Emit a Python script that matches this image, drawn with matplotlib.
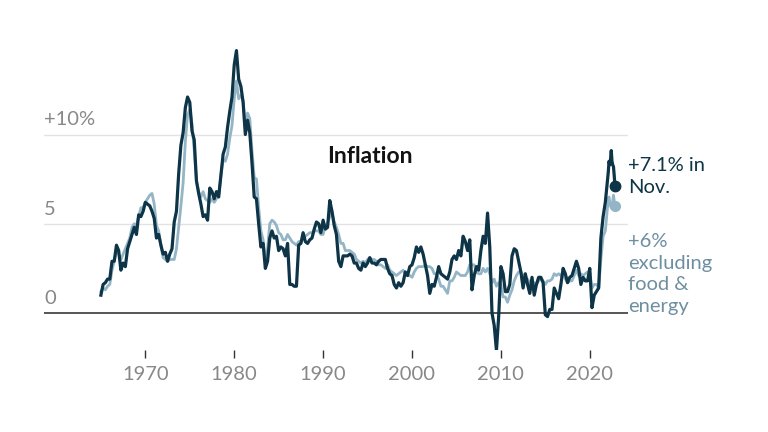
import numpy as np
import pandas as pd
import matplotlib
matplotlib.use("Agg")
import matplotlib.pyplot as plt

plt.rcParams['font.family'] = ['Lato', 'DejaVu Sans']

# Year-over-year CPI change, %, sampled Jan/Apr/Jul/Oct from 1965 to 2021
headline_q = [
    1.0, 1.6, 1.7, 1.9,    # 1965
    1.9, 2.9, 2.9, 3.8,    # 1966
    3.5, 2.4, 2.8, 2.6,    # 1967
    3.6, 4.0, 4.4, 4.8,    # 1968
    4.4, 5.5, 5.4, 5.7,    # 1969
    6.2, 6.1, 6.0, 5.7,    # 1970
    5.3, 4.2, 4.4, 3.8,    # 1971
    3.3, 3.4, 2.9, 3.3,    # 1972
    3.6, 5.1, 5.7, 7.8,    # 1973
    9.4, 10.1, 11.5, 12.1, # 1974
    11.8, 10.2, 9.7, 7.4,  # 1975
    6.7, 6.1, 5.4, 5.5,    # 1976
    5.2, 7.0, 6.8, 6.4,    # 1977
    6.8, 6.5, 7.7, 8.9,    # 1978
    9.3, 10.4, 11.3, 12.1, # 1979
    13.9, 14.7, 13.1, 12.7,# 1980
    11.8, 10.0, 10.8, 10.1,# 1981
    8.4, 6.5, 6.4, 5.0,    # 1982
    3.7, 3.9, 2.5, 2.9,    # 1983
    4.2, 4.6, 4.2, 4.3,    # 1984
    3.5, 3.7, 3.6, 3.2,    # 1985
    3.9, 1.6, 1.6, 1.5,    # 1986
    1.5, 3.8, 3.9, 4.5,    # 1987
    4.0, 3.9, 4.1, 4.2,    # 1988
    4.7, 5.1, 5.0, 4.5,    # 1989
    5.2, 4.7, 4.8, 6.3,    # 1990
    5.7, 4.9, 4.4, 2.9,    # 1991
    2.6, 3.2, 3.2, 3.2,    # 1992
    3.3, 3.2, 2.8, 2.8,    # 1993
    2.5, 2.4, 2.8, 2.6,    # 1994
    2.8, 3.1, 2.8, 2.8,    # 1995
    2.7, 2.9, 3.0, 3.0,    # 1996
    3.0, 2.5, 2.2, 2.1,    # 1997
    1.6, 1.4, 1.7, 1.5,    # 1998
    1.7, 2.3, 2.1, 2.6,    # 1999
    2.7, 3.1, 3.7, 3.4,    # 2000
    3.7, 3.3, 2.7, 2.1,    # 2001
    1.1, 1.6, 1.5, 2.0,    # 2002
    2.6, 2.2, 2.1, 2.0,    # 2003
    1.9, 2.3, 3.0, 3.2,    # 2004
    3.0, 3.5, 3.2, 4.3,    # 2005
    4.0, 3.5, 4.1, 1.3,    # 2006
    2.1, 2.6, 2.4, 3.5,    # 2007
    4.3, 3.9, 5.6, 3.7,    # 2008
    0.0, -0.7, -2.1, -0.2, # 2009
    2.6, 2.2, 1.2, 1.2,    # 2010
    1.6, 3.2, 3.6, 3.5,    # 2011
    2.9, 2.3, 1.4, 2.2,    # 2012
    1.6, 1.1, 2.0, 1.0,    # 2013
    1.6, 2.0, 2.0, 1.7,    # 2014
    -0.1, -0.2, 0.2, 0.2,  # 2015
    1.4, 1.1, 0.8, 1.6,    # 2016
    2.5, 2.2, 1.7, 2.0,    # 2017
    2.1, 2.5, 2.9, 2.5,    # 2018
    1.6, 2.0, 1.8, 1.8,    # 2019
    2.5, 0.3, 1.0, 1.2,    # 2020
    1.4, 4.2, 5.4, 6.2,    # 2021
]
core_q = [
    1.2, 1.4, 1.3, 1.5,    # 1965
    1.6, 2.4, 2.9, 3.5,    # 1966
    3.3, 3.0, 3.3, 3.6,    # 1967
    3.9, 4.2, 4.8, 5.0,    # 1968
    4.9, 5.4, 5.9, 5.9,    # 1969
    6.2, 6.4, 6.6, 6.7,    # 1970
    6.1, 4.9, 4.6, 3.8,    # 1971
    3.1, 3.0, 2.9, 3.0,    # 1972
    3.0, 3.0, 3.6, 4.8,    # 1973
    6.0, 7.3, 9.6, 11.1,   # 1974
    11.4, 10.6, 9.1, 7.4,  # 1975
    6.8, 6.5, 6.8, 6.4,    # 1976
    6.3, 6.2, 6.4, 6.2,    # 1977
    6.4, 6.6, 7.7, 8.6,    # 1978
    8.5, 8.9, 9.8, 10.5,   # 1979
    12.0, 13.0, 12.0, 12.2,# 1980
    11.9, 10.4, 11.2, 10.9,# 1981
    9.1, 7.6, 7.5, 5.9,    # 1982
    4.6, 4.1, 3.0, 3.6,    # 1983
    5.0, 5.2, 5.1, 4.9,    # 1984
    4.5, 4.4, 4.1, 4.1,    # 1985
    4.4, 4.2, 4.0, 3.9,    # 1986
    3.8, 4.0, 4.0, 4.2,    # 1987
    4.3, 4.4, 4.5, 4.5,    # 1988
    4.6, 4.6, 4.6, 4.4,    # 1989
    4.4, 4.9, 5.0, 5.4,    # 1990
    5.6, 5.1, 4.8, 4.4,    # 1991
    3.9, 3.9, 3.5, 3.5,    # 1992
    3.5, 3.4, 3.3, 3.0,    # 1993
    2.9, 2.8, 2.9, 2.8,    # 1994
    3.0, 3.1, 3.0, 3.0,    # 1995
    2.9, 2.7, 2.7, 2.6,    # 1996
    2.5, 2.7, 2.4, 2.3,    # 1997
    2.2, 2.1, 2.2, 2.3,    # 1998
    2.4, 2.2, 2.1, 2.1,    # 1999
    2.0, 2.3, 2.5, 2.6,    # 2000
    2.6, 2.6, 2.7, 2.6,    # 2001
    2.6, 2.5, 2.2, 2.2,    # 2002
    1.9, 1.5, 1.5, 1.3,    # 2003
    1.1, 1.8, 1.8, 2.0,    # 2004
    2.3, 2.2, 2.1, 2.1,    # 2005
    2.1, 2.3, 2.7, 2.7,    # 2006
    2.7, 2.3, 2.2, 2.2,    # 2007
    2.5, 2.3, 2.5, 2.2,    # 2008
    1.7, 1.9, 1.5, 1.7,    # 2009
    1.6, 0.9, 0.9, 0.6,    # 2010
    1.0, 1.3, 1.8, 2.1,    # 2011
    2.3, 2.3, 2.1, 2.0,    # 2012
    1.9, 1.7, 1.7, 1.7,    # 2013
    1.6, 1.8, 1.9, 1.8,    # 2014
    1.6, 1.8, 1.8, 1.9,    # 2015
    2.2, 2.1, 2.2, 2.1,    # 2016
    2.3, 1.9, 1.7, 1.8,    # 2017
    1.8, 2.1, 2.4, 2.1,    # 2018
    2.2, 2.1, 2.2, 2.3,    # 2019
    2.3, 1.4, 1.6, 1.6,    # 2020
    1.4, 3.0, 4.3, 4.6,    # 2021
]
# 2022, monthly Jan..Nov
headline_2022 = [7.5, 7.9, 8.5, 8.3, 8.6, 9.1, 8.5, 8.3, 8.2, 7.7, 7.1]
core_2022 = [6.0, 6.4, 6.5, 6.2, 6.0, 5.9, 5.9, 6.3, 6.6, 6.3, 6.0]

tick_years = [1970, 1980, 1990, 2000, 2010, 2020]
y_ticks = [0, 5, 10]
y_labels = ['0', '5', '+10%']

q_dates = pd.date_range('1965-01-01', '2021-10-01', freq='QS')
m_dates = pd.date_range('2022-01-01', '2022-11-01', freq='MS')
dates = q_dates.append(m_dates)
x = dates.year + (dates.month - 1) / 12
headline = np.array(headline_q + headline_2022)
core = np.array(core_q + core_2022)

navy = '#0d3447'
light = '#93b5c6'
label_light = '#6e8fa1'
gray = '#888888'

fig = plt.figure(figsize=(7.68, 4.32), dpi=100)
ax = fig.add_axes([0.0573, 0.1907, 0.7604, 0.7459])
ax.set_xlim(1958.6, 2024.3)
ax.set_ylim(-2.05, 16)

for yt in [5, 10]:
    ax.axhline(yt, color='#e2e2e2', lw=1, zorder=0)
ax.axhline(0, color='#555555', lw=1.4, zorder=1)

ax.plot(x, core, color=light, lw=2.0, zorder=2, solid_joinstyle='round')
ax.plot(x, headline, color=navy, lw=2.3, zorder=3, solid_joinstyle='round')
ax.plot(x[-1], core[-1], 'o', color=light, ms=7, zorder=2)
ax.plot(x[-1], headline[-1], 'o', color=navy, ms=7.5, zorder=4)

for v, lab in zip(y_ticks, y_labels):
    ax.text(1958.6, v + 0.35, lab, color=gray, fontsize=14.5,
            ha='left', va='bottom')

ax.text(2024.3, 8.75, '+7.1% in\nNov.', color=navy, fontsize=14.5,
        ha='left', va='top', linespacing=1.35, clip_on=False)
ax.text(2024.3, 4.5, '+6%\nexcluding\nfood &\nenergy', color=label_light,
        fontsize=14.5, ha='left', va='top', linespacing=1.35, clip_on=False)

ax.text(1995.3, 8.75, 'Inflation', color='#121212', fontsize=16.5,
        fontweight='bold', ha='center', va='center')

ax.set_xticks(tick_years)
ax.set_xticklabels([str(t) for t in tick_years])
ax.tick_params(axis='x', length=6, width=1, color='#333333',
               labelcolor=gray, labelsize=14.5, pad=6)
ax.set_yticks([])
for s in ax.spines.values():
    s.set_visible(False)

fig.savefig('out.png', dpi=100)
